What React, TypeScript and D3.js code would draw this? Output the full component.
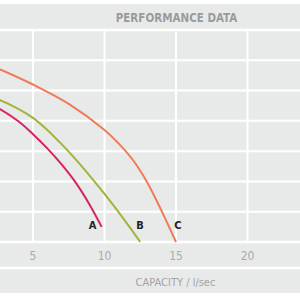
import React, { useEffect, useRef } from 'react';
import * as d3 from 'd3';

// Capacity (l/sec) and head values
const curveA_x = [0, 2.5, 4, 5, 6, 7, 8, 9, 9.8];
const curveA_y = [50, 44.4, 39.8, 35.6, 30.9, 25.6, 19.5, 12.0, 5];
const curveB_x = [0, 2.5, 4, 5, 6, 7, 8, 9, 10, 11, 12, 12.5];
const curveB_y = [51, 47.2, 43.9, 41.0, 37.0, 32.3, 27.2, 21.7, 15.9, 9.8, 3.3, 0];
const curveC_x = [0, 2.5, 5, 7.5, 10, 11, 12, 13, 14, 15];
const curveC_y = [62, 57.4, 52.0, 45.6, 37.0, 32.5, 27.0, 19.6, 10.2, 0];

const curveNames = ['A', 'B', 'C'];
const labelX = [9.17, 12.48, 15.14];
const labelY = [4.3, 4.3, 4.3];

const xTicks = [5, 10, 15, 20];
const yTicks = [0, 10, 20, 30, 40, 50, 60, 70];

const colors = ['#d6245f', '#a3b43a', '#ef7b55'];

const App = () => {
    const ref = useRef(null);

    useEffect(() => {
        const svg = d3.select(ref.current);
        svg.selectAll('*').remove();

        const bg = '#e8eaea';
        const top = 30, bottom = 242;
        const font = '"Liberation Sans Narrow", "DejaVu Sans Condensed", sans-serif';

        // x: capacity, y: head (one grid row = 10)
        const x = d3.scaleLinear().domain([0, 25]).range([-38.5, 319]);
        const y = d3.scaleLinear().domain([0, 70]).range([bottom, top]);

        // grey panels
        svg.append('rect').attr('x', 0).attr('y', 4).attr('width', 300).attr('height', 289).attr('fill', bg);

        // white grid
        const grid = svg.append('g').attr('stroke', '#fff');
        grid.selectAll('.h').data(yTicks).enter().append('line')
            .attr('x1', 0).attr('x2', 300)
            .attr('y1', d => y(d)).attr('y2', d => y(d))
            .attr('stroke-width', d => (d === 0 || d === 70) ? 2.5 : 2);
        grid.selectAll('.v').data(xTicks).enter().append('line')
            .attr('x1', d => x(d)).attr('x2', d => x(d))
            .attr('y1', top).attr('y2', bottom)
            .attr('stroke-width', 2);
        grid.append('line').attr('x1', 0).attr('x2', 300).attr('y1', 268).attr('y2', 268).attr('stroke-width', 2.5);

        // title
        svg.append('text')
            .attr('x', 176.5).attr('y', 21.5)
            .attr('text-anchor', 'middle')
            .attr('font-family', font)
            .attr('font-weight', 'bold')
            .attr('font-size', 11.5)
            .attr('fill', '#9a9a9a')
            .text('PERFORMANCE DATA');

        // x tick labels
        svg.append('g').selectAll('text').data(xTicks).enter().append('text')
            .attr('x', d => x(d)).attr('y', 259.5)
            .attr('text-anchor', 'middle')
            .attr('font-family', font)
            .attr('font-size', 12)
            .attr('fill', '#aaaaaa')
            .text(d => d);

        // x axis title
        svg.append('text')
            .attr('x', 175.5).attr('y', 286)
            .attr('text-anchor', 'middle')
            .attr('font-family', font)
            .attr('font-size', 11)
            .attr('fill', '#a3a3a3')
            .text('CAPACITY / l/sec');

        // curves
        const series = [
            d3.zip(curveA_x, curveA_y),
            d3.zip(curveB_x, curveB_y),
            d3.zip(curveC_x, curveC_y),
        ];
        const line = d3.line()
            .x(d => x(d[0]))
            .y(d => y(d[1]))
            .curve(d3.curveCatmullRom.alpha(0.5));

        svg.append('g').selectAll('path').data(series).enter().append('path')
            .attr('d', d => line(d))
            .attr('fill', 'none')
            .attr('stroke', (d, i) => colors[i])
            .attr('stroke-width', 2);

        // curve labels
        svg.append('g').selectAll('text').data(curveNames).enter().append('text')
            .attr('x', (d, i) => x(labelX[i])).attr('y', (d, i) => y(labelY[i]))
            .attr('text-anchor', 'middle')
            .attr('font-family', font)
            .attr('font-weight', 'bold')
            .attr('font-size', 11)
            .attr('fill', '#222')
            .text(d => d);
    }, []);

    return (
        <svg ref={ref} width={300} height={300}
            style={{ position: 'absolute', left: 0, top: 0, background: '#fff' }} />
    );
};

export default App;
